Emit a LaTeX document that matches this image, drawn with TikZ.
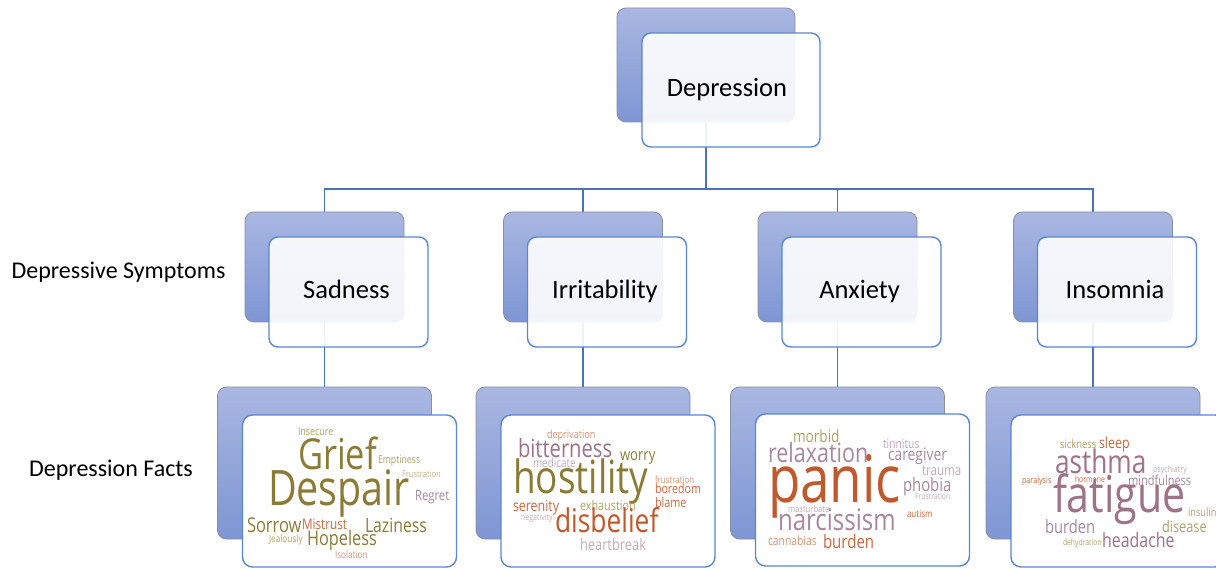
\documentclass[tikz,border=0pt]{standalone}
\usepackage{fontspec}
\usepackage{graphicx}
\setmainfont{Carlito}
\newfontfamily\cloudfont{Open Sans}
\usetikzlibrary{positioning}

\definecolor{backtop}{HTML}{A9B7E1}
\definecolor{backbot}{HTML}{7E96D4}
\definecolor{backedge}{HTML}{8A8FA0}
\definecolor{frontedge}{HTML}{5A86D2}
\definecolor{linkblue}{HTML}{4A72BA}
\definecolor{cOlive}{HTML}{8C7B35}
\definecolor{cLOlive}{HTML}{B0A266}
\definecolor{cSand}{HTML}{C9B48A}
\definecolor{cMauve}{HTML}{9E7384}
\definecolor{cMauveB}{HTML}{A8889A}
\definecolor{cLMauve}{HTML}{C4AAB5}
\definecolor{cRust}{HTML}{C0592B}
\definecolor{cRustB}{HTML}{C66A40}
\definecolor{cLRust}{HTML}{D69573}

\pgfdeclarelayer{links}
\pgfsetlayers{links,main}

\newcounter{cwn}
% one word of a word cloud: x, baseline y, size, colour, text
\newcommand\cword[5]{%
  \stepcounter{cwn}%
  \node[cloudword, text=#4, font=\cloudfont\fontsize{#3}{#3}\selectfont]
    (cw\arabic{cwn}) at (#1,#2) {\scalebox{0.84}[1.04]{#5}};}

\tikzset{
  backbox/.style={draw=backedge, line width=0.8pt, rounded corners=9pt,
    top color=backtop, bottom color=backbot, inner sep=0pt},
  frontbox/.style={draw=frontedge, line width=1.4pt, rounded corners=9pt,
    fill=white, fill opacity=0.9, inner sep=0pt},
  cloudbox/.style={draw=frontedge, line width=1.4pt, rounded corners=10pt,
    fill=white, inner sep=0pt},
  lvltop/.style={minimum width=178pt, minimum height=114pt},
  lvlmid/.style={minimum width=159pt, minimum height=110pt},
  lvlbot/.style={minimum width=214pt, minimum height=152pt},
  link/.style={draw=linkblue, line width=1.6pt},
  boxlabel/.style={anchor=base, inner sep=0pt, font=\fontsize{26.5}{26.5}\selectfont},
  sidelabel/.style={anchor=base, inner sep=0pt, font=\fontsize{24}{24}\selectfont},
  cloudword/.style={anchor=base west, inner sep=0pt, outer sep=0pt},
}

\begin{document}
\begin{tikzpicture}[x=1pt,y=-1pt]
\useasboundingbox (0,0) rectangle (1216,569);
\begin{pgfonlayer}{links}
\fill[white] (0,0) rectangle (1216,569);
\end{pgfonlayer}

% root
\node[backbox, lvltop] (top-b) at (706,65) {};
\node[frontbox, lvltop] (top-f) at (731,90) {};
\node[boxlabel] (top-t) at ([xshift=-4pt,yshift=-7pt]top-f.center) {Depression};

% symptoms
\node[backbox, lvlmid] (sad-b) at (324.5,267) {};
\node[backbox, lvlmid] (irr-b) at (583,267) {};
\node[backbox, lvlmid] (anx-b) at (837.5,267) {};
\node[backbox, lvlmid] (ins-b) at (1093,267) {};
\node[frontbox, lvlmid] (sad-f) at (348.5,292) {};
\node[frontbox, lvlmid] (irr-f) at (607,292) {};
\node[frontbox, lvlmid] (anx-f) at (861.5,292) {};
\node[frontbox, lvlmid] (ins-f) at (1117,292) {};
\node[boxlabel] (sad-t) at ([xshift=-2pt,yshift=-7pt]sad-f.center) {Sadness};
\node[boxlabel] (irr-t) at ([xshift=-2pt,yshift=-7pt]irr-f.center) {Irritability};
\node[boxlabel] (anx-t) at ([xshift=-2pt,yshift=-7pt]anx-f.center) {Anxiety};
\node[boxlabel] (ins-t) at ([xshift=-2pt,yshift=-7pt]ins-f.center) {Insomnia};

% facts
\node[backbox, lvlbot] (sadx-b) at (324.5,463) {};
\node[backbox, lvlbot] (irrx-b) at (583,463) {};
\node[backbox, lvlbot] (anxx-b) at (837.5,463) {};
\node[backbox, lvlbot] (insx-b) at (1093,463) {};
\node[cloudbox, lvlbot] (sadx-f) at (349.5,491) {};
\node[cloudbox, lvlbot] (irrx-f) at (608,491) {};
\node[cloudbox, lvlbot] (anxx-f) at (862.5,490) {};
\node[cloudbox, lvlbot] (insx-f) at (1118,491) {};

% row captions
\node[sidelabel] (row-sym) at (118.5,279) {Depressive Symptoms};
\node[sidelabel] (row-fac) at (111,476) {Depression Facts};

% tree connectors, kept beneath the boxes
\coordinate (bus) at (706,189);
\begin{pgfonlayer}{links}
\draw[link] (top-b.south) -- (top-b.south |- bus);
\draw[link] (top-b.south |- bus) -| (sad-b.north);
\draw[link] (top-b.south |- bus) -| (irr-b.north);
\draw[link] (top-b.south |- bus) -| (anx-b.north);
\draw[link] (top-b.south |- bus) -| (ins-b.north);
\draw[link] (sad-b.south) -- (sadx-b.north);
\draw[link] (irr-b.south) -- (irrx-b.north);
\draw[link] (anx-b.south) -- (anxx-b.north);
\draw[link] (ins-b.south) -- (insx-b.north);
\end{pgfonlayer}

% word cloud: sadness
\cword{298}{435}{10.6}{cLOlive}{Insecure}
\cword{298}{469}{41}{cOlive}{Grief}
\cword{378}{463}{10.4}{cLOlive}{Emptiness}
\cword{402}{477}{9}{cSand}{Frustration}
\cword{268}{505}{47}{cOlive}{Despair}
\cword{415}{500}{13.5}{cMauveB}{Regret}
\cword{247}{532}{19.6}{cOlive}{Sorrow}
\cword{302}{529}{14}{cRustB}{Mistrust}
\cword{365}{532}{18.8}{cOlive}{Laziness}
\cword{269}{542}{9.8}{cLOlive}{Jealously}
\cword{307}{545}{19.4}{cOlive}{Hopeless}
\cword{335}{558}{9.7}{cLRust}{Isolation}

% word cloud: irritability
\cword{547}{438}{10.8}{cLRust}{deprivation}
\cword{518}{457}{24}{cMauve}{bitterness}
\cword{620}{460}{15.6}{cOlive}{worry}
\cword{533}{467}{11.8}{cLMauve}{medicate}
\cword{513}{493}{44}{cOlive}{hostility}
\cword{655}{483}{9.4}{cLRust}{frustration}
\cword{655}{493}{12.7}{cRustB}{boredom}
\cword{655}{507}{12.9}{cRustB}{blame}
\cword{513}{511}{14.8}{cRustB}{serenity}
\cword{580}{510}{12.9}{cLOlive}{exhaustion}
\cword{521}{520}{8.4}{cLMauve}{negativity}
\cword{555}{532}{31.4}{cRust}{disbelief}
\cword{580}{550}{15.3}{cLMauve}{heartbreak}

% word cloud: anxiety
\cword{793}{442}{16.2}{cLOlive}{morbid}
\cword{768}{462}{25.6}{cMauveB}{relaxation}
\cword{883}{448}{12.3}{cLMauve}{tinnitus}
\cword{888}{460}{16.5}{cMauveB}{caregiver}
\cword{768}{502}{63}{cRust}{panic}
\cword{922}{475}{13.8}{cLMauve}{trauma}
\cword{903}{491}{17.7}{cMauveB}{phobia}
\cword{915}{499}{8.2}{cLMauve}{Frustration}
\cword{788}{512}{9.1}{cLMauve}{masturbate}
\cword{907}{517}{9.6}{cRustB}{autism}
\cword{778}{530}{28.6}{cMauveB}{narcissism}
\cword{768}{545}{12.3}{cLRust}{cannabias}
\cword{823}{548}{17.9}{cRustB}{burden}

% word cloud: insomnia
\cword{1060}{448}{11.2}{cLOlive}{sickness}
\cword{1099}{448}{14.8}{cRustB}{sleep}
\cword{1055}{473}{31.2}{cMauve}{asthma}
\cword{1153}{472}{8.5}{cLMauve}{psychiatry}
\cword{1022}{483}{8.6}{cRustB}{paralysis}
\cword{1075}{482}{8.2}{cRustB}{hormone}
\cword{1128}{485}{13.1}{cMauveB}{mindfulness}
\cword{1053}{512}{49}{cMauve}{fatigue}
\cword{1188}{516}{11}{cLOlive}{insulin}
\cword{1045}{533}{17.6}{cMauveB}{burden}
\cword{1162}{532}{15.2}{cLOlive}{disease}
\cword{1063}{545}{8.1}{cLOlive}{dehydration}
\cword{1102}{547}{19}{cMauve}{headache}

\end{tikzpicture}
\end{document}
